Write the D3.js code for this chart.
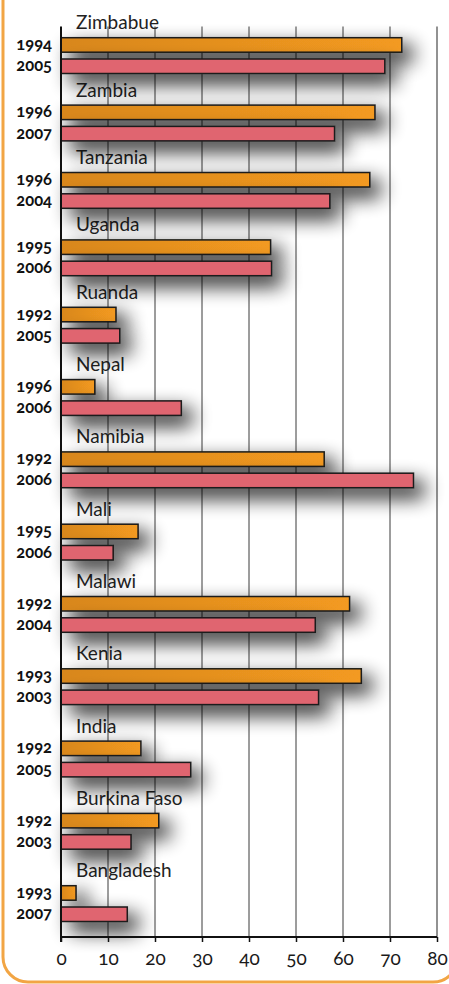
<!DOCTYPE html>
<html><head><meta charset="utf-8">
<script src="https://cdn.jsdelivr.net/npm/d3@7"></script>
<style>
html,body{margin:0;padding:0;background:#fff;}
svg{display:block;}
.yr{font-family:Lato,"Open Sans",sans-serif;font-weight:700;font-size:16.5px;fill:#111;font-variant-numeric:oldstyle-nums;}
.ctry{font-family:Lato,"Open Sans",sans-serif;font-weight:400;font-size:19px;fill:#222;}
.tick text{font-family:Lato,"Open Sans",sans-serif;font-weight:400;font-size:19px;fill:#1a1a1a;font-variant-numeric:oldstyle-nums;}
</style></head>
<body>
<script>
const countries = ["Zimbabue","Zambia","Tanzania","Uganda","Ruanda","Nepal","Namibia","Mali","Malawi","Kenia","India","Burkina Faso","Bangladesh"];
const yearsFirst = ["1994","1996","1996","1995","1992","1996","1992","1995","1992","1993","1992","1992","1993"];
const yearsSecond = ["2005","2007","2004","2006","2005","2006","2006","2006","2004","2003","2005","2003","2007"];
const valuesFirst = [72.5,66.8,65.7,44.6,11.7,7.2,56.0,16.4,61.4,63.9,17.0,20.8,3.2];
const valuesSecond = [68.9,58.2,57.2,44.8,12.5,25.6,75.0,11.1,54.1,54.8,27.6,14.9,14.1];
const xTicks = [0,10,20,30,40,50,60,70,80];

const W = 449, H = 984;
const svg = d3.select("body").append("svg").attr("width", W).attr("height", H);
const defs = svg.append("defs");

const f = defs.append("filter").attr("id","sh").attr("filterUnits","userSpaceOnUse")
  .attr("x",0).attr("y",0).attr("width",W).attr("height",H);
f.append("feGaussianBlur").attr("in","SourceAlpha").attr("stdDeviation",10).attr("result","b");
f.append("feOffset").attr("in","b").attr("dx",10).attr("dy",9).attr("result","o");
f.append("feComponentTransfer").attr("in","o").attr("result","oa")
  .append("feFuncA").attr("type","linear").attr("slope",0.95);
const m = f.append("feMerge");
m.append("feMergeNode").attr("in","oa");
m.append("feMergeNode").attr("in","SourceGraphic");

const go = defs.append("linearGradient").attr("id","gOr").attr("x1","0").attr("x2","1").attr("y1","0").attr("y2","0");
go.append("stop").attr("offset","0").attr("stop-color","#d8871e");
go.append("stop").attr("offset","1").attr("stop-color","#f39a20");

// frame
svg.append("rect").attr("x",3).attr("y",-40).attr("width",455).attr("height",1022)
  .attr("rx",25).attr("fill","none").attr("stroke","#f2a544").attr("stroke-width",3);

const x = d3.scaleLinear().domain([0,80]).range([61,437]);
const yTop = 26.5, yAxis = 937;
const g = d3.scaleLinear().domain([0,4,12]).range([37.7,307.3,885.7]);
const barH = 14.5, gap = 21.3;

// grid
svg.append("g").selectAll("line").data(xTicks.filter(d=>d>0)).join("line")
  .attr("x1",d=>x(d)).attr("x2",d=>x(d)).attr("y1",yTop).attr("y2",yAxis)
  .attr("stroke",d=>d===80?"#777":"#3a3a3a").attr("stroke-width",d=>d===80?1.6:1);

// country labels
svg.append("g").selectAll("text").data(countries).join("text").attr("class","ctry")
  .attr("x",76).attr("y",(d,i)=>g(i)-8.5).text(d=>d);

// bars
const bars = svg.append("g");
bars.selectAll("rect.a").data(valuesFirst).join("rect").attr("class","a")
  .attr("x",x(0)).attr("y",(d,i)=>g(i)).attr("width",d=>x(d)-x(0)).attr("height",barH)
  .attr("fill","url(#gOr)").attr("stroke","#1a1a1a").attr("stroke-width",1.5).attr("filter","url(#sh)");
bars.selectAll("rect.b").data(valuesSecond).join("rect").attr("class","b")
  .attr("x",x(0)).attr("y",(d,i)=>g(i)+gap).attr("width",d=>x(d)-x(0)).attr("height",barH)
  .attr("fill","#e06570").attr("stroke","#1a1a1a").attr("stroke-width",1.5).attr("filter","url(#sh)");

// year labels
svg.append("g").selectAll("text").data(yearsFirst).join("text").attr("class","yr")
  .attr("x",52).attr("y",(d,i)=>g(i)+barH/2+5).attr("text-anchor","end").text(d=>d);
svg.append("g").selectAll("text").data(yearsSecond).join("text").attr("class","yr")
  .attr("x",52).attr("y",(d,i)=>g(i)+gap+barH/2+5).attr("text-anchor","end").text(d=>d);

// axes
const ax = svg.append("g").attr("transform",`translate(0,${yAxis})`)
  .call(d3.axisBottom(x).tickValues(xTicks).tickSize(5).tickPadding(10).tickFormat(d3.format("d")));
ax.select(".domain").remove();
ax.selectAll(".tick line").attr("stroke","#111").attr("stroke-width",1.5);
svg.append("line").attr("x1",x(0)).attr("x2",x(80)).attr("y1",yAxis).attr("y2",yAxis).attr("stroke","#111").attr("stroke-width",2);
svg.append("line").attr("x1",x(0)).attr("x2",x(0)).attr("y1",yTop).attr("y2",yAxis+5).attr("stroke","#111").attr("stroke-width",2);
</script>
</body></html>
